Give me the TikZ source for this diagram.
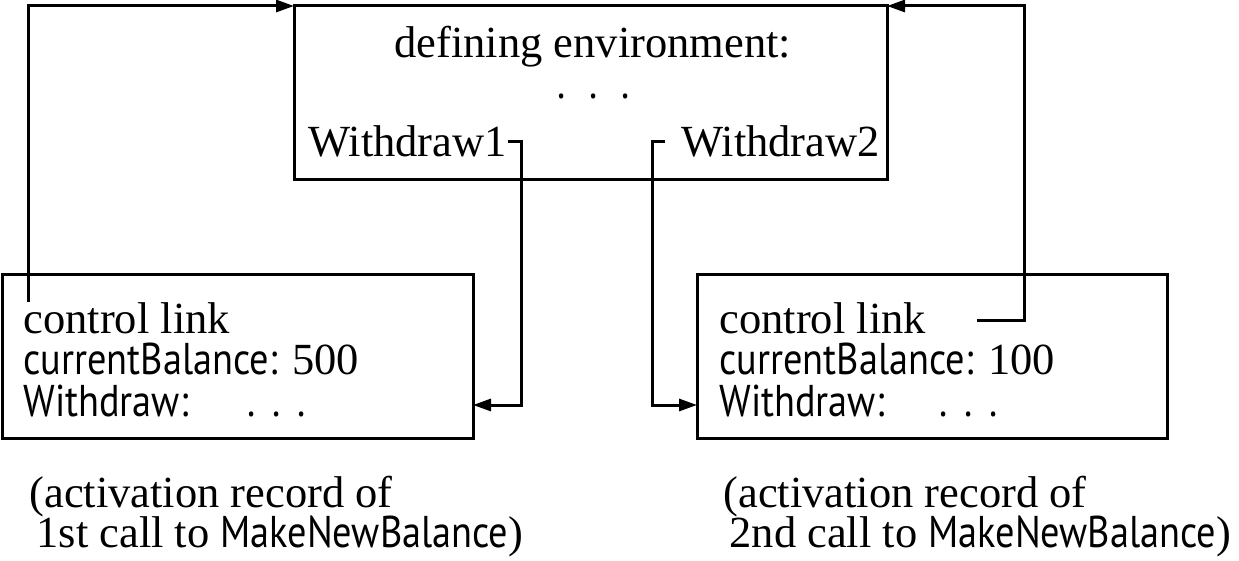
\documentclass[tikz,border=0pt]{standalone}
\usepackage{fontspec}
\setmainfont{Liberation Serif}
\newfontfamily\sansf[FakeStretch=0.86]{PT Sans}
\usetikzlibrary{arrows.meta}
\begin{document}
\begin{tikzpicture}[x=1pt,y=-1pt, line width=3pt,
  box/.style={draw, rectangle, inner sep=0pt, outer sep=0pt, line width=3pt},
  lbl/.style={anchor=base west, inner sep=0pt, font=\fontsize{44.5}{50}\selectfont},
  link/.style={line width=3pt, -{Triangle[length=18pt,width=12pt]}},
]
\useasboundingbox (0,0) rectangle (1239,561);
\node[box, minimum width=593pt, minimum height=174pt] (env) at (590.5,93) {};
\node[box, minimum width=471pt, minimum height=163pt] (ar1) at (237.5,356.5) {};
\node[box, minimum width=470pt, minimum height=163pt] (ar2) at (932,356.5) {};

\node[lbl] (defenv) at (393,58) {defining environment:};
\node[lbl] (envdots) at (556,99) {\sansf .\hspace{24pt}.\hspace{24pt}.};
\node[lbl] (w1) at (307,157) {Withdraw1};
\node[lbl] (w2) at (680,157) {Withdraw2};

\node[lbl] (cl1t) at (22,333) {control link};
\node[lbl] (cb1) at (22,374) {{\sansf currentBalance:} 500};
\node[lbl] (wd1) at (22,416) {\sansf Withdraw:};
\node[lbl] (dots1) at (246,416) {\sansf .\hspace{17pt}.\hspace{17pt}.};

\node[lbl] (cl2t) at (718,333) {control link};
\node[lbl] (cb2) at (718,374) {{\sansf currentBalance:} 100};
\node[lbl] (wd2) at (718,416) {\sansf Withdraw:};
\node[lbl] (dots2) at (938,416) {\sansf .\hspace{17pt}.\hspace{17pt}.};

\node[lbl] (cap1a) at (28,507) {(activation record of};
\node[lbl] (cap1b) at (35,547) {1st call to {\sansf MakeNewBalance})};
\node[lbl] (cap2a) at (722,507) {(activation record of};
\node[lbl] (cap2b) at (728,547) {2nd call to {\sansf MakeNewBalance})};

\coordinate (cl1) at (28,302);
\coordinate (cl2) at (977,320);
\draw[link] (cl1) |- (env.north west);
\draw[link] (cl2) -- ++(47,0) |- (env.north east);
\draw[link] (w1.east) -- ++(13,0) |- ([yshift=-48.5pt]ar1.east);
\draw[link] ([xshift=-15pt]w2.west) -- ++(-13,0) |- ([yshift=-48.5pt]ar2.west);
\end{tikzpicture}
\end{document}
